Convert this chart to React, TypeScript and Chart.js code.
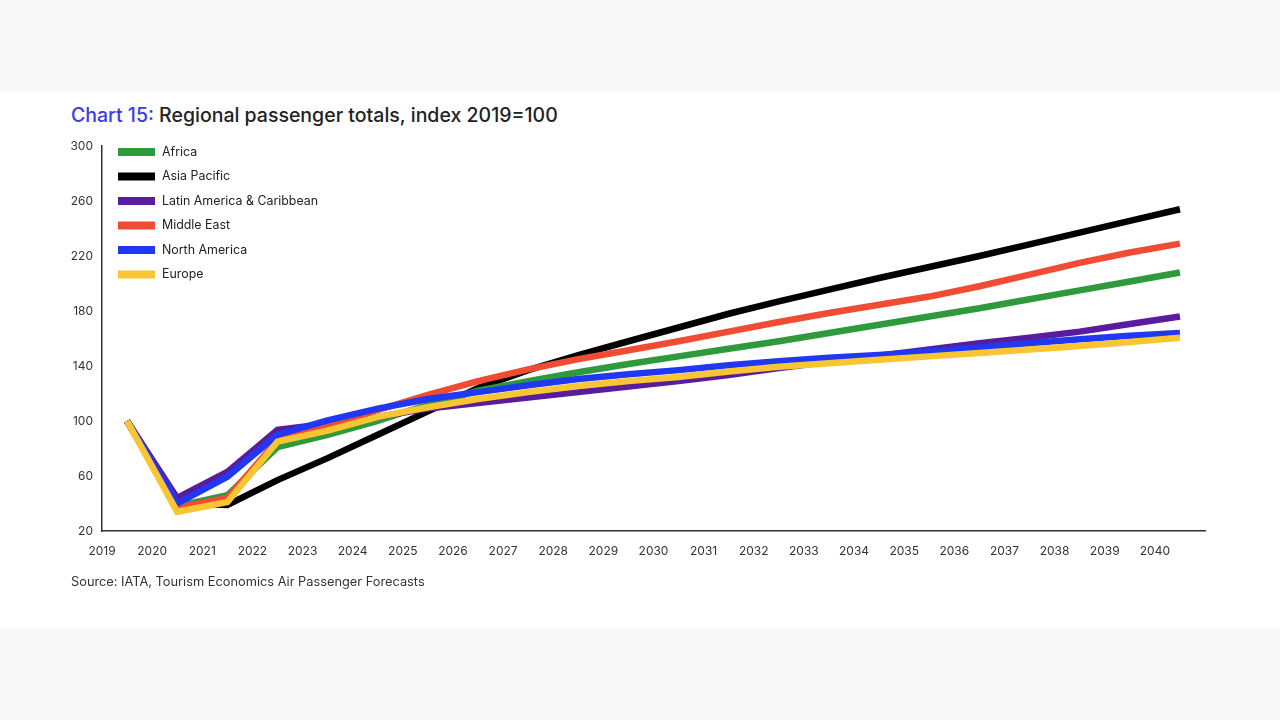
import React, { useEffect, useRef } from "react";
import { Chart, registerables } from "chart.js";

Chart.register(...registerables);

const years = [2019, 2020, 2021, 2022, 2023, 2024, 2025, 2026, 2027, 2028, 2029, 2030, 2031, 2032, 2033, 2034, 2035, 2036, 2037, 2038, 2039, 2040];

const africa = [100, 38, 46, 81, 90, 100, 112, 122, 129, 135.5, 141.5, 147, 152.5, 158, 164, 170, 176, 182, 188.5, 195, 201.5, 208];
const asiaPacific = [100, 40, 39, 57, 73, 90, 107, 124, 137, 148, 158, 168, 178, 187, 195.5, 204, 212, 220, 228.5, 237, 245.5, 254];
const latinAmerica = [100, 44, 63, 93.5, 98, 103, 109, 113, 117, 121, 125, 129, 133.5, 138.5, 143, 147.5, 152, 156.5, 160.5, 165, 170.5, 176];
const middleEast = [100, 37, 44, 86, 97, 108, 119, 129, 137.5, 145, 151.5, 158, 165, 172, 178.5, 184.5, 190.5, 198, 206.5, 215, 222.5, 229];
const northAmerica = [100, 40, 59.5, 90, 100.5, 109, 116, 121, 126, 130.5, 134, 137, 140.5, 143.5, 146, 148, 150.5, 153.5, 156.5, 159.5, 162, 164];
const europe = [100, 34, 41, 85, 93, 103, 110, 116, 121, 125.5, 129, 132, 136, 139.5, 142, 144.5, 147, 149.5, 152, 154.5, 157.5, 160.5];

const seriesNames = ["Africa", "Asia Pacific", "Latin America & Caribbean", "Middle East", "North America", "Europe"];
const seriesValues = [africa, asiaPacific, latinAmerica, middleEast, northAmerica, europe];
const seriesColors = ["#2e9a3c", "#000000", "#5a1c9e", "#f04b33", "#2038f2", "#f9c532"];
const drawOrder = [4, 5, 3, 2, 1, 0];

const yTicks = [20, 60, 100, 140, 180, 220, 260, 300];

const FONT = "Inter, 'Noto Sans', sans-serif";

const legendPlugin = {
  id: "insideLegend",
  afterDraw(chart: any) {
    const { ctx, chartArea } = chart;
    const x0 = chartArea.left + 16;
    const y0 = chartArea.top + 6;
    const step = 24.5;
    ctx.save();
    ctx.font = `12.4px ${FONT}`;
    ctx.textBaseline = "middle";
    ctx.textAlign = "left";
    chart.data.datasets.forEach((ds: any, i: number) => {
      const y = y0 + i * step;
      ctx.fillStyle = ds.borderColor;
      ctx.fillRect(x0, y - 4, 37, 8);
      ctx.fillStyle = "#222";
      ctx.fillText(ds.label, x0 + 44, y);
    });
    ctx.restore();
  },
};

export default function App() {
  const canvasRef = useRef<HTMLCanvasElement | null>(null);

  useEffect(() => {
    if (!canvasRef.current) return;
    const datasets = seriesNames.map((name, i) => ({
      label: name,
      data: years.map((yr, j) => ({ x: yr + 0.5, y: seriesValues[i][j] })),
      borderColor: seriesColors[i],
      backgroundColor: seriesColors[i],
      borderWidth: 6.5,
      pointRadius: 0,
      tension: 0,
      fill: false,
      order: drawOrder[i],
    }));
    const chart = new Chart(canvasRef.current, {
      type: "line",
      data: { datasets },
      plugins: [legendPlugin],
      options: {
        animation: false,
        responsive: false,
        maintainAspectRatio: false,
        layout: { padding: { left: 0, top: 146, right: 75, bottom: 159 } },
        plugins: { legend: { display: false }, tooltip: { enabled: false }, title: { display: false } },
        scales: {
          x: {
            type: "linear",
            min: 2019,
            max: 2041,
            grid: { display: false, drawTicks: false },
            border: { display: true, color: "#333", width: 1.5 },
            afterFit: (scale: any) => { scale.height = 30; },
            afterBuildTicks: (scale: any) => {
              scale.ticks = years.concat([2041]).map((v) => ({ value: v }));
            },
            ticks: {
              padding: 13,
              color: "#333",
              font: { family: FONT, size: 12 },
              maxRotation: 0,
              autoSkip: false,
              callback: (v: any) => (v === 2041 ? "" : String(v)),
            },
          },
          y: {
            min: 20,
            max: 300,
            grid: { display: false, drawTicks: false },
            border: { display: true, color: "#333", width: 1.5 },
            afterFit: (scale: any) => { scale.width = 102; },
            afterBuildTicks: (scale: any) => {
              scale.ticks = yTicks.map((v) => ({ value: v }));
            },
            ticks: {
              padding: 9,
              color: "#333",
              font: { family: FONT, size: 12 },
              callback: (v: any) => String(v),
            },
          },
        },
      },
    });
    return () => chart.destroy();
  }, []);

  return (
    <div style={{ position: "fixed", left: 0, top: 0, width: 1280, height: 720, background: "#f8f8f9", overflow: "hidden" }}>
      <div style={{ position: "absolute", left: 0, top: 92, width: 1280, height: 536, background: "#ffffff" }} />
      <div style={{ position: "absolute", left: 71, top: 102, fontFamily: FONT, fontSize: 19.5, fontWeight: 500, color: "#222", whiteSpace: "nowrap", lineHeight: "26px" }}>
        <span style={{ color: "#3b3bea" }}>Chart 15:</span> Regional passenger totals, index 2019=100
      </div>
      <canvas ref={canvasRef} width={1280} height={720} style={{ position: "absolute", left: 0, top: 0, width: 1280, height: 720 }} />
      <div style={{ position: "absolute", left: 71, top: 574, fontFamily: FONT, fontSize: 12.8, color: "#333", whiteSpace: "nowrap", lineHeight: "16px" }}>
        Source: IATA, Tourism Economics Air Passenger Forecasts
      </div>
    </div>
  );
}
